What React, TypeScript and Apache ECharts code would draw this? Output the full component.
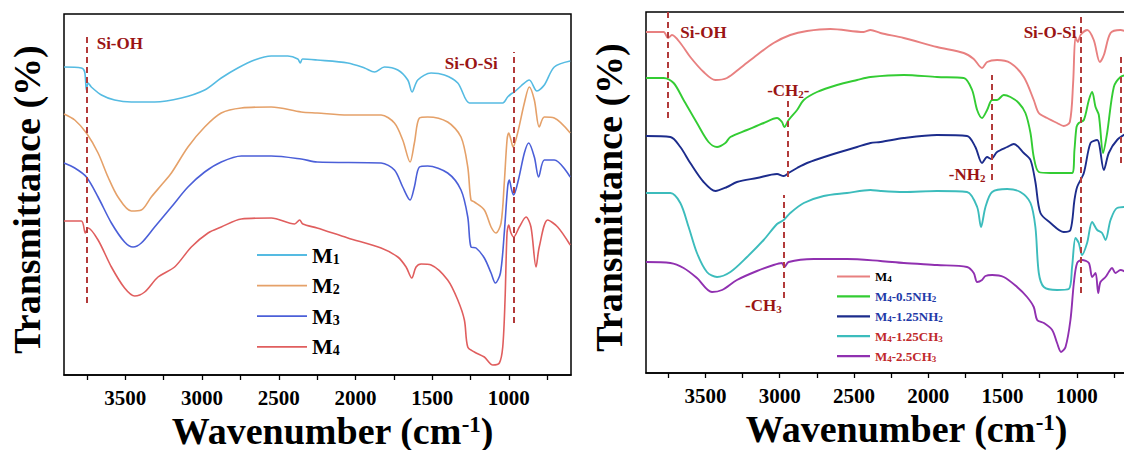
import React, { useEffect, useRef } from 'react';
import * as echarts from 'echarts';

const FONT = "'Liberation Serif', 'Times New Roman', Times, serif";
const ANN_COLOR = '#9a1414';
const DASH_COLOR = '#b23b3b';

const X_MIN = 595;
const X_MAX = 3900;
const Y_MIN = 0;
const Y_MAX = 361;
const tickLabels = [1000, 1500, 2000, 2500, 3000, 3500];
const tickMarks = [750, 1000, 1250, 1500, 1750, 2000, 2250, 2500, 2750, 3000, 3250, 3500, 3750];

// ---------- left panel ----------
const leftNames = ['M1', 'M2', 'M3', 'M4'];
const leftColors = ['#55bbe2', '#e5a169', '#4b5fd8', '#e05e5e'];

const m1 = [[3900,308],[3787,307],[3765,303],[3754,285],[3743,292],[3722,288],[3656,280],[3570,275],[3461,273],[3309,273],[3135,277],[2983,285],[2875,297],[2767,307],[2658,315],[2549,319],[2441,319],[2376,316],[2360,312],[2345,316],[2250,315],[2050,312],[1941,307],[1876,303],[1811,308],[1724,305],[1659,295],[1631,283],[1594,295],[1507,302],[1420,300],[1333,292],[1257,272],[1181,272],[1040,272],[1008,278],[986,281],[964,283],[921,289],[867,295],[817,284],[769,290],[704,308],[600,314]];
const m2 = [[3900,261],[3830,255],[3754,242],[3678,222],[3613,198],[3548,178],[3461,164],[3396,165],[3331,178],[3265,190],[3200,202],[3092,228],[2983,248],[2875,262],[2744,267],[2549,268],[2354,263],[2250,262],[2050,260],[1833,260],[1746,252],[1692,235],[1644,213],[1616,232],[1583,257],[1529,258],[1399,253],[1312,238],[1268,208],[1247,175],[1225,173],[1160,165],[1116,148],[1084,142],[1051,152],[1030,192],[1012,235],[1001,242],[986,235],[973,228],[943,242],[899,272],[867,288],[834,275],[802,248],[769,258],[704,257],[600,242]];
const m3 = [[3900,212],[3830,207],[3754,198],[3678,178],[3591,152],[3505,133],[3450,128],[3396,132],[3309,148],[3200,168],[3092,188],[2983,203],[2875,213],[2744,219],[2549,219],[2354,216],[2250,213],[1833,212],[1746,205],[1692,188],[1644,175],[1616,188],[1583,208],[1529,209],[1399,202],[1312,185],[1268,158],[1247,128],[1214,127],[1160,117],[1116,102],[1088,92],[1055,102],[1030,142],[1008,188],[997,195],[982,185],[969,180],[938,195],[899,222],[871,232],[834,218],[806,198],[769,215],[704,215],[600,198]];
const m4 = [[3900,154],[3787,154],[3761,142],[3743,147],[3678,135],[3591,108],[3505,87],[3439,79],[3374,83],[3287,98],[3179,108],[3070,128],[2961,142],[2875,148],[2744,156],[2549,157],[2397,151],[2364,155],[2343,151],[2250,147],[2050,137],[1833,127],[1724,118],[1670,108],[1633,97],[1605,108],[1572,111],[1507,110],[1399,95],[1333,75],[1290,55],[1268,28],[1225,23],[1160,18],[1105,10],[1062,12],[1040,28],[1025,75],[1012,142],[1001,150],[986,142],[969,138],[932,148],[888,158],[856,148],[823,108],[802,128],[747,155],[682,148],[600,130]];
const leftData = [m1, m2, m3, m4];

const leftAnnotations = [
  { text: 'Si-OH', w: 3687, v: 332, align: 'left' },
  { text: 'Si-O-Si', w: 1073, v: 312, align: 'right' },
];
const leftDashes = [
  { w: 3754, from: 72, to: 340 },
  { w: 971, from: 52, to: 323 },
];

// ---------- right panel ----------
const rightNames = ['M4', 'M4-0.5NH2', 'M4-1.25NH2', 'M4-1.25CH3', 'M4-2.5CH3'];
const rightColors = ['#e88080', '#33cc33', '#1c2c8c', '#3cbcbc', '#9030b0'];
const rightTextClass = ['k', 'b', 'b', 'r', 'r'];

const r1 = [[3900,341],[3781,341],[3752,335],[3725,338],[3669,330],[3602,316],[3512,301],[3433,293],[3355,295],[3265,305],[3153,318],[3041,330],[2929,338],[2816,342],[2659,344],[2434,341],[2389,343],[2322,340],[2165,335],[1941,326],[1761,320],[1694,314],[1638,305],[1604,311],[1537,313],[1447,310],[1357,296],[1290,273],[1256,260],[1200,255],[1133,250],[1088,247],[1047,251],[1025,290],[1009,336],[993,331],[975,338],[930,343],[886,333],[845,311],[818,318],[773,340],[706,343],[660,341]];
const r2 = [[3900,295],[3781,295],[3714,290],[3647,273],[3557,250],[3479,231],[3422,226],[3366,230],[3332,236],[3220,243],[3108,250],[3018,255],[2985,251],[2969,246],[2940,253],[2883,263],[2838,273],[2749,281],[2614,288],[2479,293],[2389,296],[2165,298],[1941,296],[1761,295],[1705,283],[1671,263],[1638,255],[1604,263],[1570,273],[1537,273],[1492,278],[1447,276],[1391,270],[1346,260],[1312,240],[1290,216],[1256,201],[1177,200],[1032,200],[1016,223],[1002,246],[987,250],[953,253],[919,273],[897,281],[874,266],[852,258],[823,220],[796,240],[751,286],[706,296],[660,298]];
const r3 = [[3900,237],[3736,236],[3669,226],[3602,210],[3512,191],[3433,182],[3355,186],[3288,191],[3153,195],[3018,199],[2973,197],[2940,200],[2883,205],[2816,210],[2659,218],[2479,226],[2389,230],[2322,231],[2165,235],[1941,238],[1739,237],[1683,226],[1638,210],[1604,216],[1577,214],[1537,221],[1469,226],[1424,229],[1357,220],[1312,213],[1279,191],[1245,160],[1177,150],[1088,141],[1043,143],[1016,173],[998,186],[953,200],[908,230],[863,233],[818,203],[785,220],[729,233],[660,240]];
const r4 = [[3900,180],[3736,180],[3669,170],[3613,146],[3557,120],[3490,101],[3422,96],[3332,101],[3220,116],[3108,133],[3018,149],[2973,153],[2929,160],[2838,170],[2704,177],[2547,180],[2389,183],[2322,182],[2165,181],[1941,182],[1739,181],[1671,166],[1645,146],[1615,166],[1570,181],[1469,184],[1380,181],[1312,170],[1279,146],[1256,100],[1222,86],[1133,83],[1054,84],[1032,106],[1009,135],[987,130],[965,118],[931,130],[897,151],[863,143],[830,140],[807,133],[773,153],[729,165],[660,166]];
const r5 = [[3900,111],[3736,110],[3647,105],[3557,95],[3456,81],[3388,83],[3288,93],[3153,102],[3041,108],[2985,110],[2969,106],[2940,111],[2771,114],[2547,114],[2322,112],[2165,110],[1941,108],[1739,106],[1694,100],[1671,91],[1638,93],[1615,97],[1570,98],[1492,96],[1402,86],[1335,76],[1290,66],[1267,53],[1222,50],[1166,43],[1133,30],[1106,21],[1076,26],[1043,53],[1020,90],[998,110],[965,113],[919,110],[897,96],[874,100],[856,80],[841,91],[807,96],[785,101],[763,105],[740,100],[706,103],[660,100]];
const rightData = [r1, r2, r3, r4, r5];

const rightAnnotations = [
  { text: 'Si-OH', w: 3669, v: 341, align: 'left' },
  { text: '-CH2-', w: 2942, v: 283, align: 'center' },
  { text: '-CH3', w: 2986, v: 68, align: 'right' },
  { text: '-NH2', w: 1615, v: 199, align: 'right' },
  { text: 'Si-O-Si', w: 1002, v: 341, align: 'right' },
];
const rightDashes = [
  { w: 3752, from: 255, to: 361 },
  { w: 2946, from: 196, to: 275 },
  { w: 2973, from: 75, to: 178 },
  { w: 1570, from: 193, to: 298 },
  { w: 971, from: 80, to: 358 },
  { w: 702, from: 210, to: 316 },
];

// turn "M4-0.5NH2" into rich text with subscripts after M/H
function richify(label: string, cls: string): string {
  let out = '';
  let buf = '';
  for (let i = 0; i < label.length; i++) {
    const c = label[i];
    if (/\d/.test(c) && i > 0 && /[MH]/.test(label[i - 1])) {
      if (buf) out += `{m${cls}|${buf}}`;
      buf = '';
      out += `{s${cls}|${c}}`;
    } else {
      buf += c;
    }
  }
  if (buf) out += `{m${cls}|${buf}}`;
  return out;
}

function richPair(cls: string, color: string, size: number, subSize: number, lh: number, subLh: number) {
  return {
    ['m' + cls]: { fontFamily: FONT, fontWeight: 'bold', fontSize: size, lineHeight: lh, color, fill: color },
    ['s' + cls]: { fontFamily: FONT, fontWeight: 'bold', fontSize: subSize, lineHeight: subLh, verticalAlign: 'bottom', color, fill: color },
  };
}

function xAxisFor(gridIndex: number) {
  return {
    type: 'value',
    gridIndex,
    inverse: true,
    min: X_MIN,
    max: X_MAX,
    axisLine: { show: true, onZero: false, lineStyle: { color: '#000', width: 1.5 } },
    axisTick: { show: true, inside: false, length: 5, customValues: tickMarks, lineStyle: { color: '#000', width: 1.3 } },
    axisLabel: {
      show: true,
      customValues: tickLabels,
      formatter: (v: number) => String(v),
      margin: 12,
      fontFamily: FONT,
      fontWeight: 'bold',
      fontSize: 21,
      lineHeight: 21,
      color: '#000',
    },
    splitLine: { show: false },
    name: '{t|Wavenumber (cm}{p|-1}{t|)}',
    nameLocation: 'middle',
    nameGap: 38,
    nameMoveOverlap: false,
    nameTextStyle: {
      padding: [0, 0, 0, 30],
      rich: {
        t: { fontFamily: FONT, fontWeight: 'bold', fontSize: 38, lineHeight: 36, color: '#000' },
        p: { fontFamily: FONT, fontWeight: 'bold', fontSize: 23, lineHeight: 18, verticalAlign: 'top', color: '#000' },
      },
    },
  };
}

function yAxisFor(gridIndex: number) {
  return {
    type: 'value',
    gridIndex,
    min: Y_MIN,
    max: Y_MAX,
    axisLine: { show: false },
    axisTick: { show: false },
    axisLabel: { show: false },
    splitLine: { show: false },
    name: 'Transmittance (%)',
    nameLocation: 'middle',
    nameRotate: 90,
    nameGap: 18,
    nameMoveOverlap: false,
    nameTextStyle: { fontFamily: FONT, fontWeight: 'bold', fontSize: 38, color: '#000', padding: [0, 10, 0, 0] },
  };
}

const annRich = richPair('a', ANN_COLOR, 17, 11, 18, 8);

function dashLines(dashes: any[]) {
  return {
    silent: true,
    symbol: ['none', 'none'],
    label: { show: false },
    lineStyle: { type: [6, 4], color: DASH_COLOR, width: 2 },
    emphasis: { disabled: true },
    data: dashes.map((d) => [{ coord: [d.w, d.from] }, { coord: [d.w, d.to] }]),
  };
}

export default function App() {
  const ref = useRef<HTMLDivElement>(null);

  useEffect(() => {
    if (!ref.current) return;
    const chart = echarts.init(ref.current, undefined, { renderer: 'svg' });

    const leftSeries = leftNames.map((n, i) => ({
      type: 'line',
      name: n,
      xAxisIndex: 0,
      yAxisIndex: 0,
      data: leftData[i],
      symbol: 'none',
      smooth: 0.3,
      lineStyle: { color: leftColors[i], width: 1.6 },
      itemStyle: { color: leftColors[i] },
      markLine: i === 0 ? dashLines(leftDashes) : undefined,
    }));

    const rightSeries = rightNames.map((n, i) => ({
      type: 'line',
      name: 'R ' + n,
      xAxisIndex: 1,
      yAxisIndex: 1,
      data: rightData[i],
      symbol: 'none',
      smooth: 0.3,
      lineStyle: { color: rightColors[i], width: 1.9 },
      itemStyle: { color: rightColors[i] },
      markLine: i === 0 ? dashLines(rightDashes) : undefined,
    }));

    const option: any = {
      animation: false,
      backgroundColor: '#fff',
      grid: [
        { left: 64, top: 14, width: 507, height: 361, show: true, borderColor: '#000', borderWidth: 1.5, containLabel: false, outerBoundsMode: 'none' },
        { left: 646, top: 12, width: 491, height: 361, show: true, borderColor: '#000', borderWidth: 1.5, containLabel: false, outerBoundsMode: 'none' },
      ],
      xAxis: [xAxisFor(0), xAxisFor(1)],
      yAxis: [yAxisFor(0), yAxisFor(1)],
      legend: [
        {
          orient: 'vertical',
          left: 257,
          top: 244,
          padding: 0,
          itemWidth: 50,
          itemHeight: 22,
          itemGap: 8.6,
          selectedMode: false,
          symbolKeepAspect: true,
          icon: 'path://M0,0H50V1.8H0Z',
          data: leftNames,
          formatter: (name: string) => richify(name, 'k'),
          textStyle: { rich: richPair('k', '#000', 22, 14, 22, 10) },
        },
        {
          orient: 'vertical',
          left: 837,
          top: 270,
          padding: 0,
          itemWidth: 33,
          itemHeight: 14,
          itemGap: 6.4,
          selectedMode: false,
          symbolKeepAspect: true,
          icon: 'path://M0,0H33V2.2H0Z',
          data: rightNames.map((n) => 'R ' + n),
          formatter: (name: string) => {
            const label = name.slice(2);
            const idx = rightNames.indexOf(label);
            return richify(label, rightTextClass[idx]);
          },
          textStyle: {
            rich: {
              ...richPair('k', '#000', 13, 9, 14, 6),
              ...richPair('b', '#1f3aa8', 13, 9, 14, 6),
              ...richPair('r', '#c0282b', 13, 9, 14, 6),
            },
          },
        },
      ],
      series: [...leftSeries, ...rightSeries],
    };

    chart.setOption(option);

    // annotation texts placed through the axes' own scales
    const makeTexts = (axisIndex: number, anns: any[]) =>
      anns.map((a) => {
        const p = chart.convertToPixel({ xAxisIndex: axisIndex, yAxisIndex: axisIndex } as any, [a.w, a.v]) as number[];
        return {
          type: 'text',
          x: p[0],
          y: p[1],
          silent: true,
          z: 10,
          style: {
            text: richify(a.text, 'a'),
            rich: annRich,
            align: a.align,
            verticalAlign: 'middle',
            fill: ANN_COLOR,
            fontFamily: FONT,
            fontWeight: 'bold',
            fontSize: 17,
          },
        };
      });

    chart.setOption({
      graphic: [...makeTexts(0, leftAnnotations), ...makeTexts(1, rightAnnotations)],
    });

    return () => chart.dispose();
  }, []);

  return (
    <div
      ref={ref}
      style={{ position: 'fixed', left: 0, top: 0, width: 1124, height: 450, background: '#fff' }}
    />
  );
}
